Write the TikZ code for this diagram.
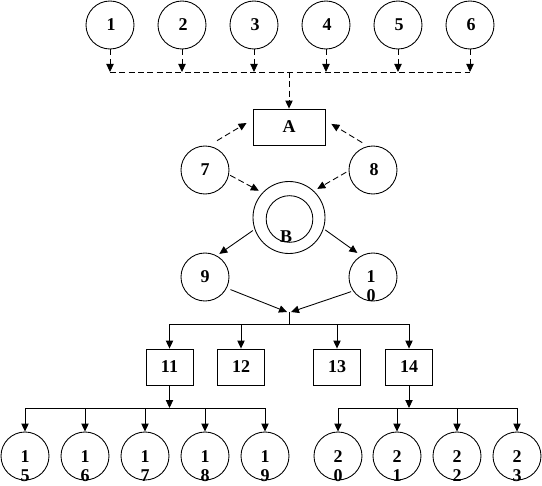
\documentclass[tikz,border=0pt]{standalone}
\usepackage{fontspec}
\setmainfont{Liberation Serif}
\usetikzlibrary{arrows.meta,calc}
\begin{document}
\begin{tikzpicture}[x=0.75pt,y=-0.75pt,
  every path/.style={line width=0.65pt},
  circ/.style={draw,circle,minimum size=36pt,inner sep=0pt},
  boxn/.style={draw,rectangle,minimum width=35.25pt,minimum height=27pt,inner sep=0pt,font=\bfseries\fontsize{13.5}{15}\selectfont},
  lbl/.style={inner sep=0pt,font=\bfseries\fontsize{13.5}{15}\selectfont},
  arr/.style={-{Triangle[length=6pt,width=5.5pt]}},
  dsh/.style={dash pattern=on 4.5pt off 2.5pt},
  darr/.style={arr,dsh}]
\useasboundingbox (0,0) rectangle (542,485);
% top circles
\foreach \i/\x in {1/110,2/182,3/254,4/326,5/398,6/470}{
  \node[circ] (c\i) at (\x,25) {};
  \node[lbl] (t\i) at (\x+1,25) {\i};
}
\coordinate (H) at (289,72);
\foreach \i in {1,...,6}{
  \draw[darr] (c\i.south) -- (c\i.south |- H);
}
\draw[dsh] (c1.south |- H) -- (c6.south |- H);
% box A
\node[boxn,minimum width=54pt] (A) at (289,127) {A};
\draw[darr] (A.north |- H) -- (A.north);
% circles 7 8
\node[circ] (c7) at (205,170) {};
\node[lbl] (t7) at (205,170) {7};
\node[circ] (c8) at (373,170) {};
\node[lbl] (t8) at (374,170) {8};
% B
\node[draw,circle,minimum size=54pt,inner sep=0pt] (B) at (289,217.5) {};
\node[draw,circle,minimum size=35pt,inner sep=0pt] (Bi) at (289.5,219) {};
\node[lbl] (tB) at (286,237) {B};
% 9 10
\node[circ] (c9) at (205,277) {};
\node[lbl] (t9) at (205,277) {9};
\node[circ] (c10) at (373,277) {};
\node[lbl] (t10a) at (371,277) {1};
\node[lbl] (t10b) at (371,296) {0};
% dashed connectors
\draw[darr,shorten <=7.5pt,shorten >=5.25pt] (c7.82) -- ($(A.west)+(0,-7.6)$);
\draw[darr,shorten <=5pt,shorten >=5.25pt] (c8.102.5) -- ($(A.east)+(0,-6.7)$);
\draw[darr,shorten <=1pt,shorten >=3pt] (c7.-11) -- (B.137);
\draw[darr,shorten <=2pt,shorten >=3pt] (c8.182) -- (B.47);
% solid connectors
\draw[arr,shorten <=1.5pt,shorten >=2.25pt] (B.199) -- (c9.61.6);
\draw[arr,shorten <=1.5pt,shorten >=3.5pt] (B.342) -- (c10.119);
\coordinate (J) at (289,312);
\coordinate (K) at (289,324);
\draw[arr,shorten <=3pt] (c9.-27.5) -- ([xshift=-1.5pt]J);
\draw[arr,shorten <=1.5pt] (c10.215.5) -- ([xshift=1.5pt]J);
% boxes
\node[boxn] (b11) at (169.5,367) {11};
\node[boxn] (b12) at (241,367) {12};
\node[boxn] (b13) at (337,367) {13};
\node[boxn] (b14) at (409,367) {14};
\draw (J) -- (K);
\draw (b11.north |- K) -- (b14.north |- K);
\foreach \b in {b11,b12,b13,b14}{
  \draw[arr] (\b.north |- K) -- (\b.north);
}
% bottom circles
\coordinate (L) at (289,408);
\foreach \i/\x/\a/\s in {15/25/1/5,16/85/1/6,17/145/1/7,18/205/1/8,19/265/1/9,20/338/2/0,21/397/2/1,22/457/2/2,23/517/2/3}{
  \node[circ] (c\i) at (\x,456) {};
  \node[lbl] (ta\i) at (\x,457) {\a};
  \node[lbl] (tb\i) at (\x,476) {\s};
}
\draw[arr] (b11.south) -- (b11.south |- L);
\draw[arr] (b14.south) -- (b14.south |- L);
\draw (c15.north |- L) -- (c19.north |- L);
\draw (c20.north |- L) -- (c23.north |- L);
\foreach \i in {15,...,23}{
  \draw[arr] (c\i.north |- L) -- (c\i.north);
}
\end{tikzpicture}
\end{document}
